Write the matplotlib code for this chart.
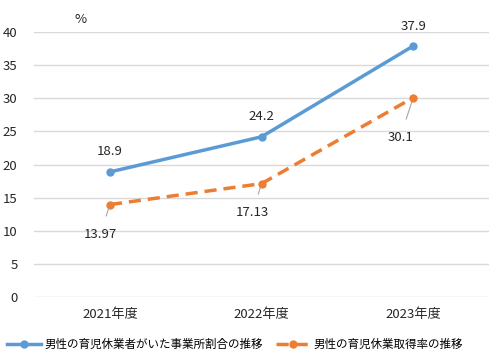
import matplotlib
matplotlib.use('Agg')
import matplotlib.pyplot as plt

plt.rcParams['font.family'] = ['Noto Sans CJK JP', 'DejaVu Sans']

# data
years = ['2021年度', '2022年度', '2023年度']
office_ratio = [18.9, 24.2, 37.9]
take_rate = [13.97, 17.13, 30.1]
office_labels = ['18.9', '24.2', '37.9']
take_labels = ['13.97', '17.13', '30.1']
series_names = ['男性の育児休業者がいた事業所割合の推移', '男性の育児休業取得率の推移']

fig = plt.figure(figsize=(5.02, 3.61), dpi=100)
ax = fig.add_axes([0.068, 0.177, 0.906, 0.734])

x = list(range(len(years)))
ax.plot(x, office_ratio, color='#5B9BD5', lw=2.5, marker='o', ms=5, label=series_names[0])
ax.plot(x, take_rate, color='#ED7D31', lw=2.5, ls=(0, (3.5, 2)), marker='o', ms=5,
        label=series_names[1])

# labels above the blue line
for i, v in enumerate(office_ratio):
    ax.annotate(office_labels[i], (i, v), xytext=(0, 20), textcoords='offset pixels',
                ha='center', va='center', fontsize=9.5, color='#262626')

# labels below the orange line with leader lines
offsets = [(-10, -30), (-9, -29), (-13, -40)]
for i, v in enumerate(take_rate):
    ax.annotate(take_labels[i], (i, v), xytext=offsets[i], textcoords='offset pixels',
                ha='center', va='center', fontsize=9.5, color='#262626',
                arrowprops=dict(arrowstyle='-', color='#A6A6A6', lw=0.8,
                                shrinkA=7, shrinkB=3))

ax.set_xlim(-0.5, 2.5)
ax.set_ylim(0, 40)
ax.set_yticks(range(0, 41, 5))
ax.set_xticks(x)
ax.set_xticklabels(years)
ax.tick_params(length=0, labelsize=9.5, colors='#262626')
ax.tick_params(axis='y', pad=12)
ax.tick_params(axis='x', pad=8)
ax.grid(axis='y', color='#D9D9D9', lw=1)
ax.set_axisbelow(True)
for s in ax.spines.values():
    s.set_visible(False)

fig.text(0.148, 0.935, '%', fontsize=9.5, color='#262626', ha='left')

fig.legend(loc='center', bbox_to_anchor=(0.468, 0.046), ncol=2, frameon=False,
           fontsize=8.3, handlelength=3.0, columnspacing=1.1, handletextpad=0.3,
           borderaxespad=0, borderpad=0.2)

fig.savefig('out.png', dpi=100)
